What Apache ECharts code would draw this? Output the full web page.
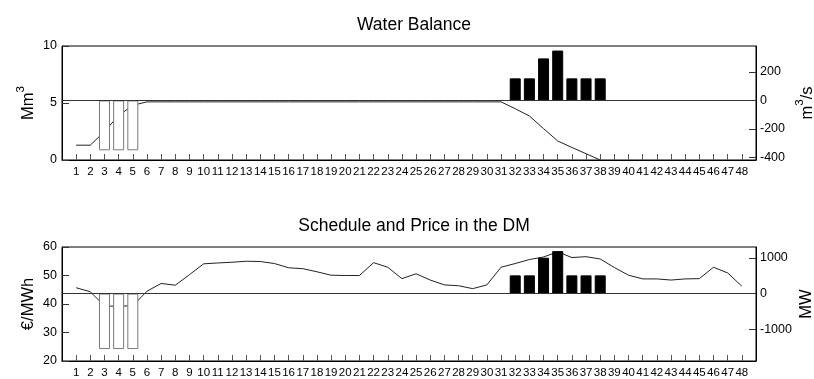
<!DOCTYPE html>
<html>
<head>
<meta charset="utf-8">
<script src="https://cdn.jsdelivr.net/npm/echarts@6/dist/echarts.min.js"></script>
<style>
html,body{margin:0;padding:0;background:#fff;}
#chart{width:814px;height:379px;}
</style>
</head>
<body>
<div id="chart"></div>
<script>
// ---- data ----
var hours = [1,2,3,4,5,6,7,8,9,10,11,12,13,14,15,16,17,18,19,20,21,22,23,24,25,26,27,28,29,30,31,32,33,34,35,36,37,38,39,40,41,42,43,44,45,46,47,48];

// Water Balance: reservoir level (Mm3, left axis)
var waterLevel = [1.3,1.3,2.5,3.9,4.8,5.1,5.1,5.1,5.1,5.1,5.1,5.1,5.1,5.1,5.1,5.1,5.1,5.1,5.1,5.1,5.1,5.1,5.1,5.1,5.1,5.1,5.1,5.1,5.1,5.1,5.1,4.5,3.86,2.75,1.67,1.1,0.55,0,null,null,null,null,null,null,null,null,null,null];

// Water Balance: flow (m3/s, right axis)
var flow = [0,0,-350,-350,-350,0,0,0,0,0,0,0,0,0,0,0,0,0,0,0,0,0,0,0,0,0,0,0,0,0,0,155,155,295,350,155,155,155,0,0,0,0,0,0,0,0,0,0];

// Schedule and Price in the DM: price (€/MWh, left axis)
var price = [45.7,44.3,39.3,39.2,39.4,44.5,47.2,46.6,50.3,54.1,54.4,54.65,55.0,54.9,54.2,52.7,52.4,51.3,50.1,50.0,50.0,54.5,52.9,48.9,50.6,48.4,46.7,46.4,45.4,46.7,52.9,54.2,55.6,56.5,58.3,56.3,56.6,55.8,52.8,50.1,48.8,48.8,48.4,48.8,48.9,52.9,50.9,46.25];

// Schedule (MW, right axis)
var schedule = [0,0,-1555,-1555,-1555,0,0,0,0,0,0,0,0,0,0,0,0,0,0,0,0,0,0,0,0,0,0,0,0,0,0,510,510,1005,1190,510,510,510,0,0,0,0,0,0,0,0,0,0];

var leftTicksTop = [0,5,10];
var rightTicksTop = [-400,-200,0,200];
var leftTicksBot = [20,30,40,50,60];
var rightTicksBot = [-1000,0,1000];

// ---- build ----
var FONT = '"Liberation Sans", Arial, Helvetica, sans-serif';

function linePairs(vals){ return hours.map(function(h,i){ return [h, vals[i]]; }); }
function barPairs(vals){
  var out = [];
  hours.forEach(function(h,i){
    var v = vals[i];
    if (v === 0 || v === null) return;
    out.push({value:[h, v], itemStyle: v < 0
      ? {color:'#ffffff', borderColor:'#7a7a7a', borderWidth:1}
      : {color:'#000000', borderColor:'#000000', borderWidth:1}});
  });
  return out;
}
function plain(v){ return String(v); }

function xAxisDef(gridIndex){
  return {
    type:'value', gridIndex:gridIndex, min:0, max:49, interval:1,
    axisLine:{show:true, onZero:false, lineStyle:{color:'#000', width:1}},
    axisTick:{show:true, inside:true, length:6, customValues:hours, lineStyle:{color:'#555', width:1}},
    axisLabel:{show:true, customValues:hours, formatter:plain, margin:6, fontSize:11.5, color:'#000', fontFamily:FONT},
    splitLine:{show:false}
  };
}

function yAxisDef(o){
  return {
    type:'value', gridIndex:o.grid, position:o.pos, min:o.min, max:o.max,
    axisLine:{show:true, onZero:false, lineStyle:{color:'#000', width:1}},
    axisTick:{show:true, inside:true, length:7, customValues:o.ticks, lineStyle:{color:'#333', width:1}},
    axisLabel:{show:true, customValues:o.ticks, formatter:plain, margin:o.pos==='left'?5:4, fontSize:12.5, color:'#000', fontFamily:FONT},
    splitLine:{show:false},
    name:o.name, nameLocation:'middle', nameRotate:90, nameGap:o.gap, nameMoveOverlap:false,
    nameTextStyle:{fontSize:16.5, color:'#000', fontFamily:FONT,
      rich:{
        b:{fontSize:16.5, color:'#000', fontFamily:FONT, lineHeight:22, verticalAlign:'bottom'},
        s:{fontSize:11.5, color:'#000', fontFamily:FONT, lineHeight:22, verticalAlign:'top'}
      }}
  };
}

var chart = echarts.init(document.getElementById('chart'), null, {renderer:'canvas'});
chart.setOption({
  animation:false,
  backgroundColor:'#fff',
  textStyle:{fontFamily:FONT},
  title:[
    {text:'Water Balance', left:409, top:11, textAlign:'center',
     textStyle:{fontSize:17.5, fontWeight:'normal', color:'#000', fontFamily:FONT}},
    {text:'Schedule and Price in the DM', left:409, top:212, textAlign:'center',
     textStyle:{fontSize:17.5, fontWeight:'normal', color:'#000', fontFamily:FONT}}
  ],
  grid:[
    {left:62, right:58, top:46, height:114, containLabel:false, outerBoundsMode:'none',
     show:true, borderColor:'#000', borderWidth:1, backgroundColor:'transparent'},
    {left:62, right:58, top:247, height:114, containLabel:false, outerBoundsMode:'none',
     show:true, borderColor:'#000', borderWidth:1, backgroundColor:'transparent'}
  ],
  xAxis:[xAxisDef(0), xAxisDef(1)],
  yAxis:[
    yAxisDef({grid:0, pos:'left', min:0, max:10, ticks:leftTicksTop, name:'{b|Mm}{s|3}', gap:25}),
    yAxisDef({grid:0, pos:'right', min:-418, max:382, ticks:rightTicksTop, name:'{b|m}{s|3}{b|/s}', gap:38}),
    yAxisDef({grid:1, pos:'left', min:20, max:60, ticks:leftTicksBot, name:'€/MWh', gap:25}),
    yAxisDef({grid:1, pos:'right', min:-1890, max:1305, ticks:rightTicksBot, name:'MW', gap:42})
  ],
  series:[
    {type:'line', xAxisIndex:0, yAxisIndex:0, data:linePairs(waterLevel), showSymbol:false, symbol:'none',
     connectNulls:false, lineStyle:{color:'#222', width:1}, z:2},
    {type:'bar', xAxisIndex:0, yAxisIndex:1, data:barPairs(flow), barWidth:11, z:3,
     markLine:{silent:true, symbol:['none','none'], label:{show:false},
       lineStyle:{color:'#333', width:1, type:'solid'}, data:[{yAxis:0}]}},
    {type:'line', xAxisIndex:1, yAxisIndex:2, data:linePairs(price), showSymbol:false, symbol:'none',
     lineStyle:{color:'#222', width:1}, z:2},
    {type:'bar', xAxisIndex:1, yAxisIndex:3, data:barPairs(schedule), barWidth:11, z:3,
     markLine:{silent:true, symbol:['none','none'], label:{show:false},
       lineStyle:{color:'#333', width:1, type:'solid'}, data:[{yAxis:0}]}}
  ]
});
</script>
</body>
</html>
